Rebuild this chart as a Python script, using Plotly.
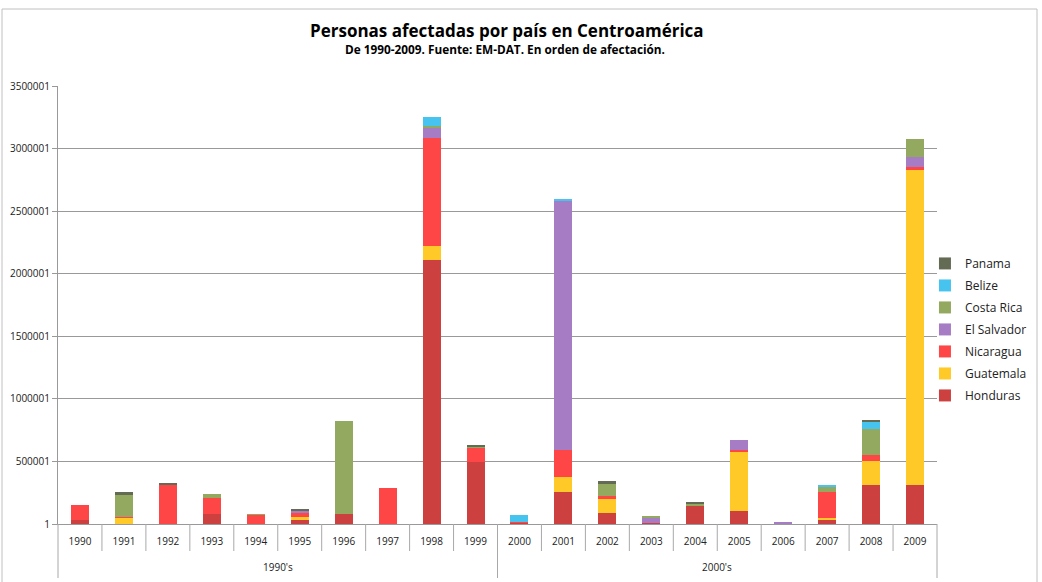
import plotly.graph_objects as go

years = [str(y) for y in range(1990, 2010)]
decade_labels = ["1990's", "2000's"]
decade_sizes = [10, 10]

countries = ["Honduras", "Guatemala", "Nicaragua", "El Salvador", "Costa Rica", "Belize", "Panama"]
colors = ["#CD4040", "#FFC928", "#FF4646", "#A67CC4", "#92A95F", "#46C4EF", "#646B55"]

honduras =    [35000, 0, 0, 80000, 0, 35000, 83000, 0, 2106000, 499000,
               13000, 253000, 85000, 5000, 149000, 104000, 0, 29000, 312000, 312000]
guatemala =   [0, 53000, 0, 0, 0, 19000, 0, 0, 112000, 0,
               0, 120000, 112000, 0, 0, 475000, 0, 19000, 195000, 2517000]
nicaragua =   [114000, 5000, 312000, 125000, 77000, 35000, 0, 291000, 869000, 109000,
               3000, 219000, 27000, 0, 0, 13000, 0, 208000, 43000, 24000]
el_salvador = [0, 0, 0, 0, 0, 16000, 0, 0, 85000, 0,
               0, 1989000, 0, 45000, 0, 80000, 19000, 0, 0, 80000]
costa_rica =  [0, 171000, 5000, 35000, 1000, 0, 741000, 0, 5000, 10000,
               0, 0, 99000, 10000, 11000, 0, 0, 40000, 211000, 141000]
belize =      [0, 0, 0, 0, 0, 0, 0, 0, 72000, 0,
               56000, 19000, 0, 0, 0, 0, 0, 10000, 53000, 0]
panama =      [0, 29000, 5000, 0, 0, 10000, 0, 0, 0, 9000,
               0, 0, 24000, 0, 10000, 0, 0, 0, 21000, 0]

series = [honduras, guatemala, nicaragua, el_salvador, costa_rica, belize, panama]

ytickvals = [1, 500001, 1000001, 1500001, 2000001, 2500001, 3000001, 3500001]
yticktext = [str(v) for v in ytickvals]

W, H = 1042, 582
ML, MR, MT, MB = 58, 105, 86, 58
plot_h = H - MT - MB

fig = go.Figure()
n = len(countries)
for i, (name, col, vals) in enumerate(zip(countries, colors, series)):
    fig.add_trace(go.Bar(
        x=years, y=vals, name=name, legendgroup=name, legendrank=(n - i) * 10,
        marker=dict(color=col, line=dict(width=0)),
    ))

shapes = []
ncat = len(years)
sep_color = "#a8a8a8"
# year separators in the label band
for k in range(1, ncat):
    shapes.append(dict(type="line", xref="x domain", yref="paper",
                       x0=k / ncat, x1=k / ncat, y0=0, y1=-27 / plot_h,
                       line=dict(color=sep_color, width=1)))
# decade dividers
annotations = []
pos = 0
bounds = [0]
for lab, sz in zip(decade_labels, decade_sizes):
    annotations.append(dict(text=lab, xref="x domain", yref="paper",
                            x=(pos + sz / 2) / ncat, y=-(567 - 524) / plot_h,
                            xanchor="center", yanchor="middle", showarrow=False,
                            font=dict(size=10, color="#222")))
    pos += sz
    bounds.append(pos)
for b in bounds:
    shapes.append(dict(type="line", xref="x domain", yref="paper",
                       x0=b / ncat, x1=b / ncat, y0=0, y1=-54 / plot_h,
                       line=dict(color=sep_color, width=1)))
# chart border
shapes.append(dict(type="rect", xref="paper", yref="paper",
                   x0=(2 - ML) / (W - ML - MR), x1=(1037 - ML) / (W - ML - MR),
                   y0=-(H + 10 - MT - plot_h) / plot_h, y1=(MT - 9 + plot_h - plot_h) / plot_h + 1,
                   line=dict(color="#c0c0c0", width=1), fillcolor="rgba(0,0,0,0)", layer="below"))

# titles
annotations.append(dict(text="<b>Personas afectadas por país en Centroamérica</b>",
                        xref="paper", yref="paper", x=(507 - ML) / (W - ML - MR),
                        y=(H - MB - 30) / plot_h, xanchor="center", yanchor="middle",
                        showarrow=False, font=dict(size=17, color="black")))
annotations.append(dict(text="<b>De 1990-2009. Fuente: EM-DAT. En orden de afectación.</b>",
                        xref="paper", yref="paper", x=(505 - ML) / (W - ML - MR),
                        y=(H - MB - 49) / plot_h, xanchor="center", yanchor="middle",
                        showarrow=False, font=dict(size=11.8, color="black")))

fig.update_layout(
    barmode="stack",
    bargap=0.59,
    width=W, height=H,
    margin=dict(l=ML, r=MR, t=MT, b=MB, autoexpand=False),
    paper_bgcolor="white", plot_bgcolor="white",
    font=dict(family="Open Sans, DejaVu Sans, sans-serif", size=10, color="#222"),
    legend=dict(
        x=0.9863, xanchor="left", y=0.628, yanchor="top",
        traceorder="grouped",
        font=dict(size=12, color="#222"),
        itemwidth=30, tracegroupgap=3,
        bgcolor="rgba(0,0,0,0)",
    ),
    showlegend=True,
    shapes=shapes,
    annotations=annotations,
)

fig.update_xaxes(
    type="category",
    showline=True, linecolor="#999", linewidth=1,
    ticks="", ticklabelstandoff=8,
    tickfont=dict(size=10, color="#222"),
    automargin=False,
)
fig.update_yaxes(
    range=[1, 3500001],
    tickvals=ytickvals, ticktext=yticktext,
    showline=True, linecolor="#999", linewidth=1,
    ticks="outside", ticklen=5, tickcolor="#999",
    showgrid=True, gridcolor="#999", gridwidth=1,
    zeroline=False,
    tickfont=dict(size=10, color="#222"),
    automargin=False,
)

fig.write_html("out.html")
